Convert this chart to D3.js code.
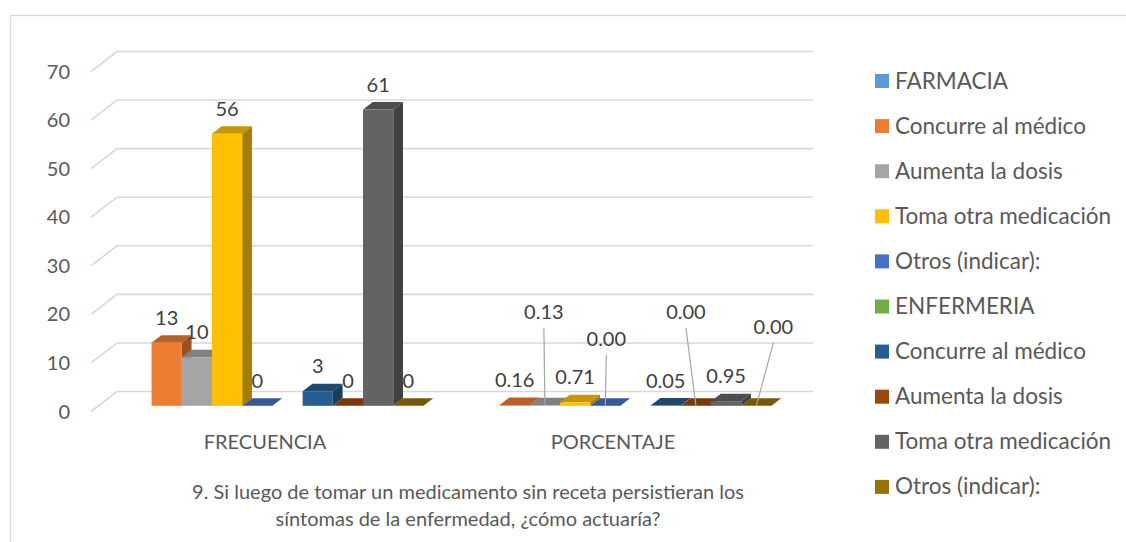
<!DOCTYPE html>
<html>
<head>
<meta charset="utf-8">
<script src="https://cdn.jsdelivr.net/npm/d3@7"></script>
<style>
  html, body { margin: 0; padding: 0; background: #ffffff; }
  svg { display: block; font-family: Lato, "Open Sans", sans-serif; }
</style>
</head>
<body>
<svg id="chart" width="1126" height="542"></svg>
<script>
// Survey answers: frequency and percentage per response option
const categories = ["FRECUENCIA", "PORCENTAJE"];
const seriesNames = [
  "FARMACIA", "Concurre al médico", "Aumenta la dosis", "Toma otra medicación", "Otros (indicar):",
  "ENFERMERIA", "Concurre al médico", "Aumenta la dosis", "Toma otra medicación", "Otros (indicar):"
];
const seriesColors = [
  "#5B9BD5", "#ED7D31", "#A5A5A5", "#FFC000", "#4472C4",
  "#70AD47", "#255E91", "#9E480E", "#636363", "#997300"
];
const frecuencia = [null, 13, 10, 56, 0, null, 3, 0, 61, 0];
const porcentaje = [null, 0.16, 0.13, 0.71, 0.00, null, 0.05, 0.00, 0.95, 0.00];
const yTicks = [0, 10, 20, 30, 40, 50, 60, 70];
const titleLines = [
  "9. Si luego de tomar un medicamento sin receta persistieran los",
  "síntomas de la enfermedad, ¿cómo actuaría?"
];

const values = [frecuencia, porcentaje];
const labelFormats = [d3.format("d"), d3.format(".2f")];

// Label callouts (pixel offsets) for crowded percentage labels
const callouts = {
  "1-2": [-1, -69],
  "1-4": [1, -42],
  "1-7": [-10, -69],
  "1-9": [17, -54]
};

const svg = d3.select("#chart");
const textColor = "#595959";
const gridColor = "#D9D9D9";

// Oblique projection for the 3D look: depth z in [0,1]
const depthX = 26, depthY = 20;
const proj = (x, y, z) => [x + z * depthX, y - z * depthY];

const x0 = d3.scaleBand().domain(categories).range([91, 787]);
const x1 = d3.scaleBand().domain(d3.range(seriesNames.length))
  .range([0, x0.bandwidth()]).paddingInner(0).paddingOuter(0.76);
const y = d3.scaleLinear().domain([0, 70]).range([411.5, 71.5]);

// Chart frame
svg.append("rect")
  .attr("x", 10.5).attr("y", 15.5).attr("width", 1130).attr("height", 540)
  .attr("fill", "none").attr("stroke", gridColor).attr("stroke-width", 1.3);

// Gridlines: side wall diagonal + back wall horizontal
const grid = svg.append("g");
yTicks.forEach(t => {
  const [fx, fy] = proj(x0.range()[0], y(t), 0);
  const [bx, by] = proj(x0.range()[0], y(t), 1);
  const [ex, ey] = proj(x0.range()[1], y(t), 1);
  grid.append("path")
    .attr("d", `M${fx},${fy}L${bx},${by}L${ex},${ey}`)
    .attr("fill", "none").attr("stroke", gridColor).attr("stroke-width", 1.6);
});

// Y axis tick labels
svg.append("g").selectAll("text").data(yTicks).join("text")
  .attr("x", 70).attr("y", d => y(d) + 7)
  .attr("text-anchor", "end")
  .attr("font-size", 20).attr("fill", textColor)
  .text(d => d);

// Bars
const zf = 0.285, zb = 0.66;
const barLayer = svg.append("g");
const labelLayer = svg.append("g");

categories.forEach((cat, ci) => {
  values[ci].forEach((v, si) => {
    if (v === null) return;
    const xl = x0(cat) + x1(si);
    const xr = xl + x1.bandwidth();
    const y0 = y(0), yt = y(v);
    const c = d3.color(seriesColors[si]);
    const P = (x, yy, z) => proj(x, yy, z).join(",");
    const g = barLayer.append("g");
    // side face
    g.append("path")
      .attr("d", `M${P(xr, y0, zf)}L${P(xr, y0, zb)}L${P(xr, yt, zb)}L${P(xr, yt, zf)}Z`)
      .attr("fill", c.darker(1.2));
    // top face
    g.append("path")
      .attr("d", `M${P(xl, yt, zf)}L${P(xr, yt, zf)}L${P(xr, yt, zb)}L${P(xl, yt, zb)}Z`)
      .attr("fill", c.darker(0.7));
    // front face
    const [fx, fy] = proj(xl, yt, zf);
    g.append("rect")
      .attr("x", fx).attr("y", fy)
      .attr("width", xr - xl).attr("height", Math.max(0, y0 - yt))
      .attr("fill", c);

    // value label
    const cx = fx + (xr - xl) / 2;
    const off = callouts[`${ci}-${si}`];
    let lx = cx, ly = fy - 25;
    if (off) {
      lx = cx + off[0];
      ly = y(0) - zf * depthY - 25 + off[1];
      labelLayer.append("line")
        .attr("x1", lx).attr("y1", ly + 16)
        .attr("x2", cx).attr("y2", fy)
        .attr("stroke", "#A6A6A6").attr("stroke-width", 1.2);
    }
    labelLayer.append("text")
      .attr("x", lx).attr("y", ly + 7)
      .attr("text-anchor", "middle")
      .attr("font-size", 20).attr("fill", "#404040")
      .text(labelFormats[ci](v));
  });
});

// Category axis labels
svg.append("g").selectAll("text").data(categories).join("text")
  .attr("x", d => x0(d) + x0.bandwidth() / 2)
  .attr("y", 449)
  .attr("text-anchor", "middle")
  .attr("font-size", 20).attr("fill", textColor)
  .text(d => d);

// Title below the plot
svg.append("g").selectAll("text").data(titleLines).join("text")
  .attr("x", 468).attr("y", (d, i) => 499 + i * 27)
  .attr("text-anchor", "middle")
  .attr("font-size", 20).attr("fill", textColor)
  .text(d => d);

// Legend
const legend = svg.append("g").selectAll("g").data(seriesNames).join("g")
  .attr("transform", (d, i) => `translate(875,${81 + i * 45.1})`);
legend.append("rect")
  .attr("x", 0).attr("y", -7).attr("width", 14).attr("height", 14)
  .attr("fill", (d, i) => seriesColors[i]);
legend.append("text")
  .attr("x", 20).attr("y", 7.5)
  .attr("font-size", 22.5).attr("fill", textColor)
  .text(d => d);
</script>
</body>
</html>
